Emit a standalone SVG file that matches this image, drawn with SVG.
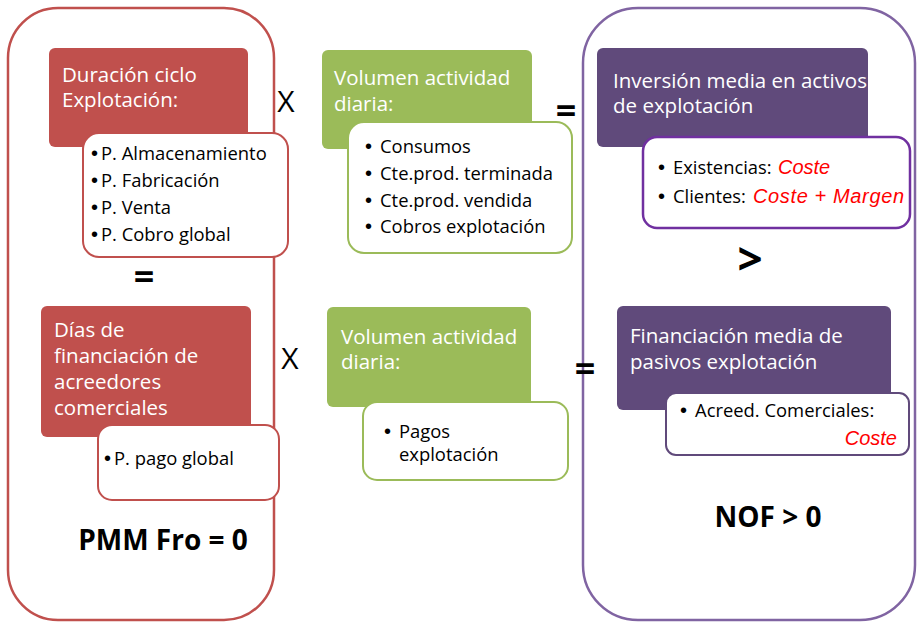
<svg xmlns="http://www.w3.org/2000/svg" width="923" height="624" viewBox="0 0 923 624">
  <style>
    text { font-family: "Open Sans", "Noto Sans", "Liberation Sans", sans-serif; }
    .frame-red { fill: #FFFFFF; stroke: #C0504D; stroke-width: 2.5; }
    .frame-purple { fill: #FFFFFF; stroke: #8064A2; stroke-width: 2.5; }
    .head-red { fill: #C0504D; }
    .head-green { fill: #9BBB59; }
    .head-purple { fill: #604A7B; }
    .card { fill: #FFFFFF; stroke-width: 2; }
    .card-red { stroke: #C0504D; }
    .card-green { stroke: #9BBB59; }
    .card-violet { stroke: #7030A0; stroke-width: 2.5; }
    .card-purple { stroke: #604A7B; }
    .head { fill: #FFFFFF; font-size: 20.5px; }
    .item { fill: #000000; font-size: 18.4px; }
    .dot { fill: #000000; font-size: 20px; font-family: "Liberation Sans", Arial, sans-serif; }
    .red { fill: #FF0000; font-style: italic; font-size: 20px; font-family: "Liberation Sans", Arial, sans-serif; }
    .op { fill: #000000; font-size: 30px; }
    .opb { fill: #000000; font-size: 36px; font-weight: bold; }
    .gt { fill: #000000; font-size: 44px; font-weight: bold; }
    .result { fill: #000000; font-size: 28px; font-weight: bold; }
  </style>

  <!-- outer frames -->
  <g id="frame-left">
    <rect class="frame-red" x="8" y="8" width="266" height="612" rx="50" ry="50"/>
  </g>
  <g id="frame-right">
    <rect class="frame-purple" x="583" y="8" width="332" height="612" rx="55" ry="55"/>
  </g>

  <!-- operating cycle duration -->
  <g id="duracion-ciclo">
    <rect class="head-red" x="49" y="48" width="199" height="99" rx="6"/>
    <text class="head" x="62" y="82">Duración ciclo</text>
    <text class="head" x="62" y="107">Explotación:</text>
    <rect class="card card-red" x="83" y="133" width="205" height="124" rx="16"/>
    <text class="dot" x="91" y="160">•</text><text class="item" x="101" y="160">P. Almacenamiento</text>
    <text class="dot" x="91" y="187">•</text><text class="item" x="101" y="187">P. Fabricación</text>
    <text class="dot" x="91" y="214">•</text><text class="item" x="101" y="214">P. Venta</text>
    <text class="dot" x="91" y="241">•</text><text class="item" x="101" y="241">P. Cobro global</text>
  </g>

  <!-- daily activity volume (assets) -->
  <g id="volumen-activos">
    <rect class="head-green" x="322" y="50" width="210" height="99" rx="6"/>
    <text class="head" x="334" y="85">Volumen actividad</text>
    <text class="head" x="334" y="111">diaria:</text>
    <rect class="card card-green" x="348" y="122" width="224" height="131" rx="16"/>
    <text class="dot" x="365" y="153">•</text><text class="item" x="380" y="153">Consumos</text>
    <text class="dot" x="365" y="180">•</text><text class="item" x="380" y="180">Cte.prod. terminada</text>
    <text class="dot" x="365" y="207">•</text><text class="item" x="380" y="207">Cte.prod. vendida</text>
    <text class="dot" x="365" y="233">•</text><text class="item" x="380" y="233">Cobros explotación</text>
  </g>

  <!-- average investment in operating assets -->
  <g id="inversion-media">
    <rect class="head-purple" x="597" y="48" width="271" height="99" rx="6"/>
    <text class="head" x="613" y="88">Inversión media en activos</text>
    <text class="head" x="613" y="113">de explotación</text>
    <rect class="card card-violet" x="643" y="137" width="267" height="91" rx="14"/>
    <text class="dot" x="658" y="174">•</text>
    <text class="item" x="673" y="174">Existencias:</text>
    <text class="red" x="778" y="174">Coste</text>
    <text class="dot" x="658" y="203">•</text>
    <text class="item" x="673" y="203">Clientes:</text>
    <text class="red" x="753" y="203" textLength="151">Coste + Margen</text>
  </g>

  <!-- supplier financing days -->
  <g id="dias-financiacion">
    <rect class="head-red" x="41" y="306" width="210" height="131" rx="6"/>
    <text class="head" x="54" y="337">Días de</text>
    <text class="head" x="54" y="363">financiación de</text>
    <text class="head" x="54" y="389">acreedores</text>
    <text class="head" x="54" y="415">comerciales</text>
    <rect class="card card-red" x="98" y="425" width="181" height="75" rx="14"/>
    <text class="dot" x="104" y="465">•</text><text class="item" x="114" y="465">P. pago global</text>
  </g>

  <!-- daily activity volume (liabilities) -->
  <g id="volumen-pasivos">
    <rect class="head-green" x="327" y="307" width="204" height="100" rx="6"/>
    <text class="head" x="341" y="344">Volumen actividad</text>
    <text class="head" x="341" y="369">diaria:</text>
    <rect class="card card-green" x="363" y="402" width="205" height="78" rx="14"/>
    <text class="dot" x="384" y="438">•</text>
    <text class="item" x="399" y="438">Pagos</text>
    <text class="item" x="399" y="461">explotación</text>
  </g>

  <!-- average financing from operating liabilities -->
  <g id="financiacion-media">
    <rect class="head-purple" x="617" y="306" width="274" height="104" rx="6"/>
    <text class="head" x="630" y="343">Financiación media de</text>
    <text class="head" x="630" y="369">pasivos explotación</text>
    <rect class="card card-purple" x="666" y="393" width="243" height="62" rx="10"/>
    <text class="dot" x="680" y="417">•</text>
    <text class="item" x="695" y="417">Acreed. Comerciales:</text>
    <text class="red" x="897" y="445" text-anchor="end">Coste</text>
  </g>

  <!-- operators between blocks -->
  <g id="operators">
    <text class="op" x="286" y="112" text-anchor="middle">X</text>
    <text class="op" x="290" y="369" text-anchor="middle">X</text>
    <text class="opb" x="566" y="123" text-anchor="middle">=</text>
    <text class="opb" x="585" y="381" text-anchor="middle">=</text>
    <text class="opb" x="144" y="289" text-anchor="middle">=</text>
    <text class="gt" x="750" y="275" text-anchor="middle">&gt;</text>
  </g>

  <!-- conclusions -->
  <g id="results">
    <text class="result" x="163" y="550" text-anchor="middle">PMM Fro = 0</text>
    <text class="result" x="768" y="527" text-anchor="middle">NOF &gt; 0</text>
  </g>
</svg>
